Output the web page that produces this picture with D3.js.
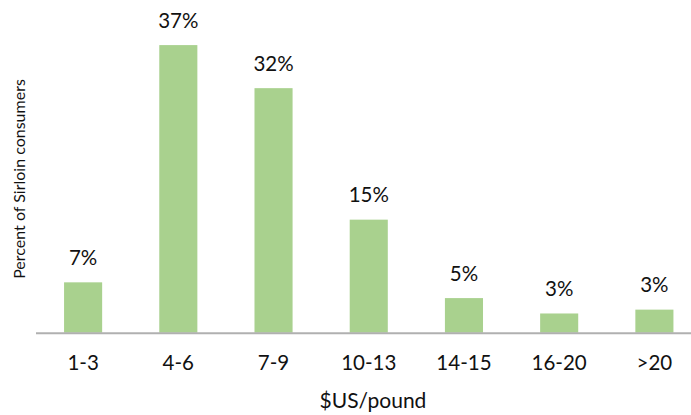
<!DOCTYPE html>
<html>
<head>
<meta charset="utf-8">
<script src="https://d3js.org/d3.v7.min.js"></script>
<style>
  body { margin: 0; background: #fff; }
  text { font-family: Lato, "Open Sans", sans-serif; fill: #111; }
</style>
</head>
<body>
<div id="chart"></div>
<script>
// price bands and share of sirloin consumers (%)
var categories = ["1-3", "4-6", "7-9", "10-13", "14-15", "16-20", ">20"];
var shares = [6.55, 37.4, 31.8, 14.7, 4.5, 2.5, 3.0];
var shareLabels = ["7%", "37%", "32%", "15%", "5%", "3%", "3%"];

var width = 691, height = 415;
var svg = d3.select("#chart").append("svg")
  .attr("width", width)
  .attr("height", height);

// plot area runs a little past the right edge, as in the cropped original
var x = d3.scaleBand()
  .domain(categories)
  .range([35.5, 702])
  .paddingInner(0.6)
  .paddingOuter(0.3);

var y = d3.scaleLinear()
  .domain([0, 40])
  .range([332.7, 332.7 - 40 * 7.69]);

// bars
svg.selectAll("rect.bar")
  .data(categories)
  .enter()
  .append("rect")
  .attr("class", "bar")
  .attr("x", function(d) { return x(d); })
  .attr("width", x.bandwidth())
  .attr("y", function(d, i) { return y(shares[i]); })
  .attr("height", function(d, i) { return y(0) - y(shares[i]); })
  .style("fill", "#a9d18e");

// value labels
svg.selectAll("text.val")
  .data(categories)
  .enter()
  .append("text")
  .attr("class", "val")
  .attr("x", function(d) { return x(d) + x.bandwidth() / 2; })
  .attr("y", function(d, i) { return y(shares[i]) - 17.5; })
  .attr("text-anchor", "middle")
  .style("font-size", "20.5px")
  .text(function(d, i) { return shareLabels[i]; });

// x axis
var xAxis = svg.append("g")
  .attr("transform", "translate(0," + y(0) + ")")
  .call(d3.axisBottom(x).tickSize(0).tickPadding(22));
xAxis.select(".domain")
  .attr("stroke", "#b0b0b0")
  .attr("stroke-width", 2);
xAxis.selectAll("text")
  .style("font-size", "20.5px")
  .attr("dy", "0.32em")
  .attr("y", 31);

// axis titles
svg.append("text")
  .attr("x", 373)
  .attr("y", 408)
  .attr("text-anchor", "middle")
  .style("font-size", "21px")
  .text("$US/pound");

svg.append("text")
  .attr("transform", "translate(25,179) rotate(-90)")
  .attr("text-anchor", "middle")
  .style("font-size", "16px")
  .text("Percent of Sirloin consumers");
</script>
</body>
</html>
